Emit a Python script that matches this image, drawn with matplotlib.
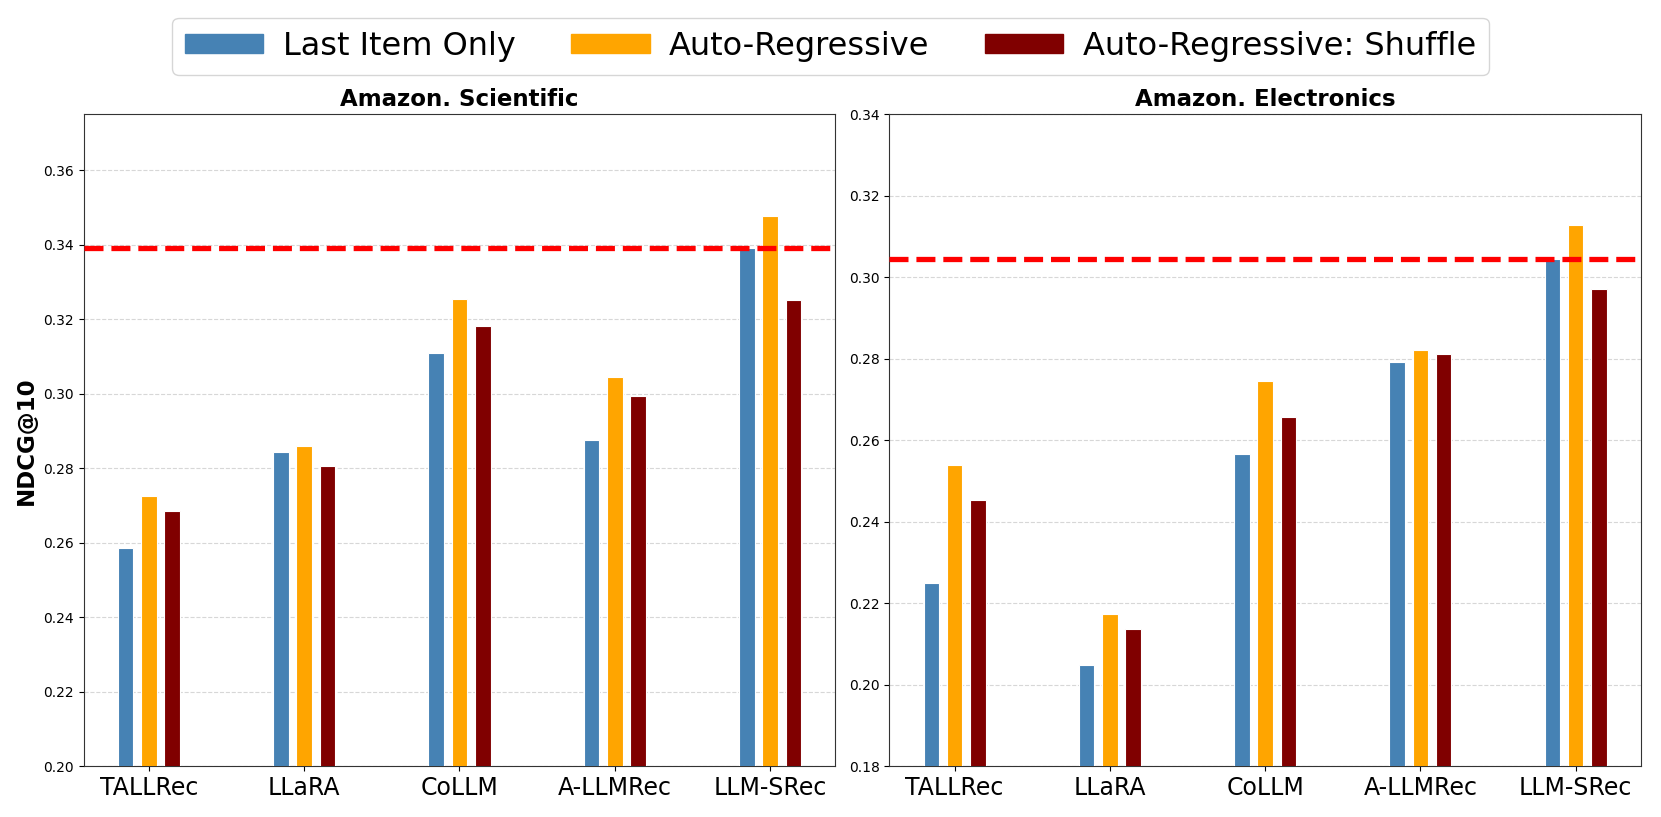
import numpy as np
import matplotlib.pyplot as plt
from matplotlib.patches import Patch

# ── data ─────────────────────────────────────────────
models = ['TALLRec', 'LLaRA', 'CoLLM', 'A-LLMRec', 'LLM-SRec']
series = ['Last Item Only', 'Auto-Regressive', 'Auto-Regressive: Shuffle']
colors = ['steelblue', 'orange', 'maroon']

sci_last = [0.2585, 0.2845, 0.3110, 0.2875, 0.3390]
sci_ar = [0.2725, 0.2860, 0.3255, 0.3045, 0.3478]
sci_shuf = [0.2685, 0.2805, 0.3183, 0.2995, 0.3253]
sci_ref = 0.3390

ele_last = [0.2250, 0.2049, 0.2567, 0.2792, 0.3044]
ele_ar = [0.2539, 0.2175, 0.2746, 0.2822, 0.3128]
ele_shuf = [0.2453, 0.2136, 0.2657, 0.2811, 0.2972]
ele_ref = 0.3045

panels = [
    ('Amazon. Scientific', [sci_last, sci_ar, sci_shuf], sci_ref, (0.20, 0.375)),
    ('Amazon. Electronics', [ele_last, ele_ar, ele_shuf], ele_ref, (0.18, 0.34)),
]

# ── plot ─────────────────────────────────────────────
fig, axes = plt.subplots(1, 2, figsize=(16.61, 8.17), dpi=100)
x = np.arange(len(models))
width = 0.1
offsets = [-0.15, 0.0, 0.15]

for i, (ax, (title, vals, ref, ylim)) in enumerate(zip(axes, panels)):
    for vals_s, off, col in zip(vals, offsets, colors):
        ax.bar(x + off, vals_s, width, color=col, edgecolor='white', linewidth=0.8, zorder=3)
    ax.axhline(ref, color='red', linestyle='--', linewidth=3.8, dashes=(3.6, 1.5), zorder=4)
    ax.set_ylim(*ylim)
    ax.set_xticks(x)
    ax.set_xticklabels(models, fontsize=17)
    ax.tick_params(axis='y', labelsize=10)
    ax.set_title(title, fontsize=16.5, fontweight='bold')
    ax.grid(axis='y', linestyle='--', alpha=0.5, zorder=0)
    for sp in ax.spines.values():
        sp.set_color('#333333')
    if i == 0:
        ax.set_ylabel('NDCG@10', fontsize=16.5, fontweight='bold')

handles = [Patch(color=c, label=s) for c, s in zip(colors, series)]
fig.legend(handles=handles, loc='upper center', ncol=3, fontsize=23,
           bbox_to_anchor=(0.5, 0.978), borderaxespad=0, handlelength=2.45,
           handleheight=0.55, handletextpad=0.6, columnspacing=1.75)

plt.subplots_adjust(left=0.0504, right=0.9879, top=0.860, bottom=0.062, wspace=0.072)
plt.savefig('out.png', dpi=100)
